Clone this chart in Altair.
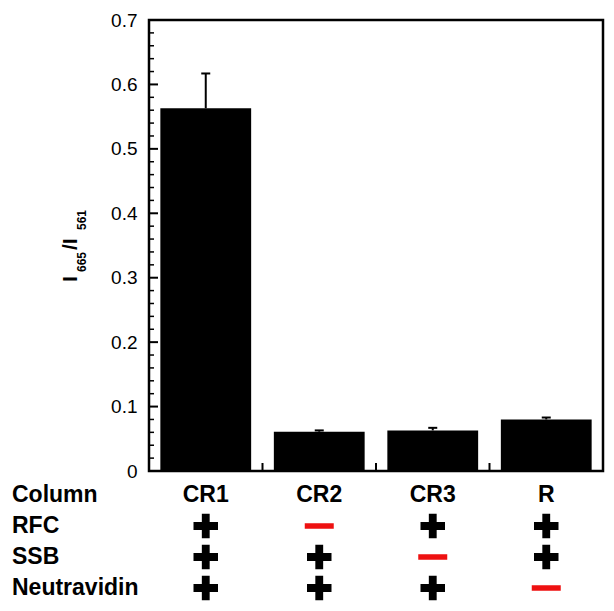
import altair as alt
import pandas as pd

# ---- data ----
categories = ["CR1", "CR2", "CR3", "R"]
values = [0.563, 0.061, 0.063, 0.080]
errors = [0.054, 0.002, 0.004, 0.003]

row_names = ["Column", "RFC", "SSB", "Neutravidin"]
rfc = ["+", "-", "+", "+"]
ssb = ["+", "+", "-", "+"]
neutravidin = ["+", "+", "+", "-"]

y_ticks = [0, 0.1, 0.2, 0.3, 0.4, 0.5, 0.6, 0.7]
y_minor = [round(i * 0.02, 2) for i in range(36) if i % 5 != 0]

FONT = "Liberation Sans"
W, H = 454, 451

bars_df = pd.DataFrame({
    "cat": categories,
    "value": values,
    "err": errors,
})
bars_df["top"] = bars_df["value"] + bars_df["err"]

sym_rows = []
for rname, lst in zip(row_names[1:], [rfc, ssb, neutravidin]):
    for c, s in zip(categories, lst):
        sym_rows.append({"row": rname, "cat": c, "sym": s})
sym_df = pd.DataFrame(sym_rows)
plus_df = sym_df[sym_df["sym"] == "+"]
minus_df = sym_df[sym_df["sym"] == "-"]
header_df = pd.DataFrame({"cat": categories, "row": ["Column"] * len(categories)})
rowlab_df = pd.DataFrame({"row": row_names})

# ---- scales / axes ----
xscale = alt.Scale(domain=categories, paddingInner=0.2, paddingOuter=0.1)
yscale = alt.Scale(domain=[0, 0.7], nice=False, zero=True)
rowscale = alt.Scale(type="point", domain=row_names, range=[475, 568], padding=0)

yaxis = alt.Axis(
    values=y_ticks,
    labelExpr="datum.value == 0 ? '0' : format(datum.value, '.1f')",
    labelFont=FONT, labelFontSize=19, labelColor="black",
    labelPadding=12, ticks=False, domain=False, grid=False, title=None,
)

X = alt.X("cat:N", scale=xscale, axis=None, sort=categories)

bars = alt.Chart(bars_df).mark_bar(color="black").encode(
    x=X, y=alt.Y("value:Q", scale=yscale, axis=yaxis)
)
err_line = alt.Chart(bars_df).mark_rule(color="black", strokeWidth=2).encode(
    x=X, y=alt.Y("value:Q", scale=yscale, axis=yaxis), y2="top:Q"
)
err_cap = alt.Chart(bars_df).mark_tick(color="black", thickness=2, size=9, opacity=1).encode(
    x=X, y=alt.Y("top:Q", scale=yscale, axis=yaxis)
)
major_ticks = alt.Chart(pd.DataFrame({"v": y_ticks})).mark_rule(color="black", strokeWidth=2).encode(
    y=alt.Y("v:Q", scale=yscale, axis=yaxis), x=alt.value(0), x2=alt.value(9)
)
minor_ticks = alt.Chart(pd.DataFrame({"v": y_minor})).mark_rule(color="black", strokeWidth=1.5).encode(
    y=alt.Y("v:Q", scale=yscale, axis=yaxis), x=alt.value(0), x2=alt.value(5)
)
bottom_ticks = alt.Chart(pd.DataFrame({"cat": categories[:3]})).mark_rule(
    color="black", strokeWidth=2, xOffset=56.75
).encode(x=X, y=alt.value(443), y2=alt.value(451))

inner = alt.layer(bars, err_line, err_cap, major_ticks, minor_ticks, bottom_ticks)

# plot frame
frame = alt.Chart(pd.DataFrame({"f": [0]})).mark_rect(
    filled=False, stroke="black", strokeWidth=2.5, opacity=1
).encode(x=alt.value(0), x2=alt.value(W), y=alt.value(0), y2=alt.value(H))

# ---- table below the plot ----
row_labels = alt.Chart(rowlab_df).mark_text(
    align="left", baseline="middle", font=FONT, fontWeight="bold", fontSize=23, color="black"
).encode(
    x=alt.value(-137), y=alt.Y("row:N", scale=rowscale, axis=None), text="row:N"
)
headers = alt.Chart(header_df).mark_text(
    align="center", baseline="middle", font=FONT, fontWeight="bold", fontSize=23, color="black"
).encode(
    x=X, y=alt.Y("row:N", scale=rowscale, axis=None), text="cat:N"
)
plus_path = "M-1,-0.32H-0.32V-1H0.32V-0.32H1V0.32H0.32V1H-0.32V0.32H-1Z"
minus_path = "M-1,-0.19H1V0.19H-1Z"
plus = alt.Chart(plus_df).mark_point(
    shape=plus_path, filled=True, color="black", size=600, opacity=1, strokeWidth=0
).encode(x=X, y=alt.Y("row:N", scale=rowscale, axis=None))
minus = alt.Chart(minus_df).mark_point(
    shape=minus_path, filled=True, color="#ee1111", size=841, opacity=1, strokeWidth=0
).encode(x=X, y=alt.Y("row:N", scale=rowscale, axis=None))

# ---- y-axis title with subscripts: I_665 / I_561 ----
def title_piece(txt, size, xpos, ypos):
    return alt.Chart(pd.DataFrame({"t": [txt]})).mark_text(
        align="left", baseline="alphabetic", angle=270, font=FONT,
        fontWeight="bold", fontSize=size, color="black"
    ).encode(text="t:N", x=alt.value(xpos), y=alt.value(ypos))

title_layers = [
    title_piece("I", 21, -72, 262),
    title_piece("665", 12, -63, 252),
    title_piece("/I", 21, -72, 230),
    title_piece("561", 12, -63, 210),
]

chart = alt.layer(
    inner, frame, row_labels, headers, plus, minus, *title_layers
).resolve_scale(y="independent").properties(
    width=W, height=H,
    autosize=alt.AutoSizeParams(type="none"),
    padding={"left": 141, "top": 12, "right": 3, "bottom": 131},
).configure_view(
    stroke=None
).configure(font=FONT)

chart.save("out.html", embed_options={"renderer": "svg", "actions": False})
